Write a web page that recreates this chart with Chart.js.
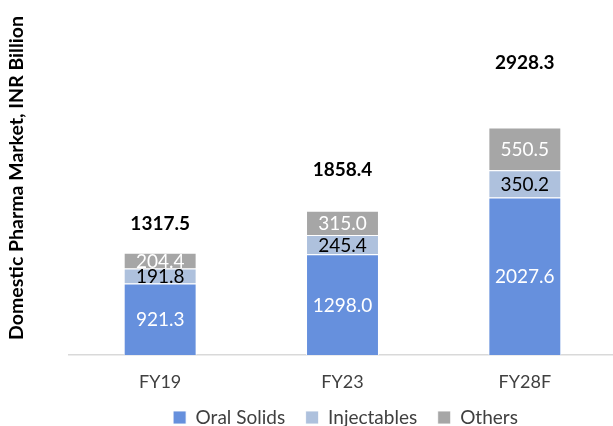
<!DOCTYPE html>
<html>
<head>
<meta charset="utf-8">
<script src="https://cdn.jsdelivr.net/npm/chart.js@4.4.1/dist/chart.umd.min.js"></script>
<style>
  html, body { margin: 0; padding: 0; background: #fff; overflow: hidden; }
  #wrap { position: relative; width: 616px; height: 426px; }
</style>
</head>
<body>
<div id="wrap"><canvas id="grafico"></canvas></div>
<script>
// DADOS
const categorias = ['FY19', 'FY23', 'FY28F'];
const oralSolids = [921.3, 1298.0, 2027.6];
const injectables = [191.8, 245.4, 350.2];
const others = [204.4, 315.0, 550.5];
const totais = [1317.5, 1858.4, 2928.3];

const tituloY = 'Domestic Pharma Market, INR Billion';
const FONTE = 'Lato, "Open Sans", sans-serif';

// rótulos dentro das barras
const rotulosValores = {
  id: 'rotulosValores',
  afterDatasetsDraw(chart) {
    const ctx = chart.ctx;
    ctx.save();
    ctx.font = `19px ${FONTE}`;
    ctx.textAlign = 'center';
    ctx.textBaseline = 'middle';
    chart.data.datasets.forEach((ds, i) => {
      const meta = chart.getDatasetMeta(i);
      meta.data.forEach((bar, j) => {
        ctx.fillStyle = ds.labelColor;
        ctx.fillText(ds.data[j].toFixed(1), bar.x, (bar.y + bar.base) / 2 + 1);
      });
    });
    ctx.restore();
  }
};

// totais acima das barras
const rotulosTotais = {
  id: 'rotulosTotais',
  afterDatasetsDraw(chart) {
    const ctx = chart.ctx;
    const y = chart.scales.y;
    const meta = chart.getDatasetMeta(0);
    ctx.save();
    ctx.font = `bold 19px ${FONTE}`;
    ctx.fillStyle = '#000';
    ctx.textAlign = 'center';
    ctx.textBaseline = 'middle';
    totais.forEach((t, j) => {
      ctx.fillText(t.toFixed(1), meta.data[j].x, y.getPixelForValue(t * 1.285));
    });
    ctx.restore();
  }
};

// título do eixo Y
const tituloEixoY = {
  id: 'tituloEixoY',
  afterDraw(chart) {
    const ctx = chart.ctx;
    ctx.save();
    ctx.translate(17, 178);
    ctx.rotate(-Math.PI / 2);
    ctx.font = `bold 19.5px ${FONTE}`;
    ctx.fillStyle = '#000';
    ctx.textAlign = 'center';
    ctx.textBaseline = 'middle';
    ctx.fillText(tituloY, 0, 0);
    ctx.restore();
  }
};

// legenda centrada como no original
const moverLegenda = {
  id: 'moverLegenda',
  afterLayout(chart) {
    const lg = chart.legend;
    const dx = 3, dy = 11;
    lg.left += dx; lg.right += dx;
    lg.top += dy; lg.bottom += dy;
    chart.scales.x.bottom = chart.height;
  }
};

new Chart(document.getElementById('grafico').getContext('2d'), {
  type: 'bar',
  data: {
    labels: categorias,
    datasets: [
      { label: 'Oral Solids', data: oralSolids, backgroundColor: '#6690dd', labelColor: '#fff' },
      { label: 'Injectables', data: injectables, backgroundColor: '#aec1dd', labelColor: '#000' },
      { label: 'Others', data: others, backgroundColor: '#a6a6a6', labelColor: '#fff' }
    ].map(d => ({
      ...d,
      borderColor: 'rgba(255,255,255,0.85)',
      borderWidth: 1,
      categoryPercentage: 1,
      barPercentage: 0.4
    }))
  },
  options: {
    responsive: true,
    maintainAspectRatio: false,
    animation: false,
    layout: { padding: { left: 69, top: 0, right: 0, bottom: 0 } },
    plugins: {
      tooltip: { enabled: false },
      legend: {
        position: 'bottom',
        labels: {
          boxWidth: 13,
          boxHeight: 13,
          padding: 20.5,
          color: '#404040',
          font: { family: FONTE, size: 19 }
        }
      }
    },
    scales: {
      x: {
        stacked: true,
        grid: { display: false, drawTicks: false },
        border: { color: '#d9d9d9', width: 1.5 },
        ticks: { color: '#404040', padding: 16.7, font: { family: FONTE, size: 18 } },
        afterFit(scale) { scale.height = 21.5; }
      },
      y: {
        display: false,
        stacked: true,
        min: 0,
        max: 4570
      }
    }
  },
  plugins: [rotulosValores, rotulosTotais, tituloEixoY, moverLegenda]
});
</script>
</body>
</html>
